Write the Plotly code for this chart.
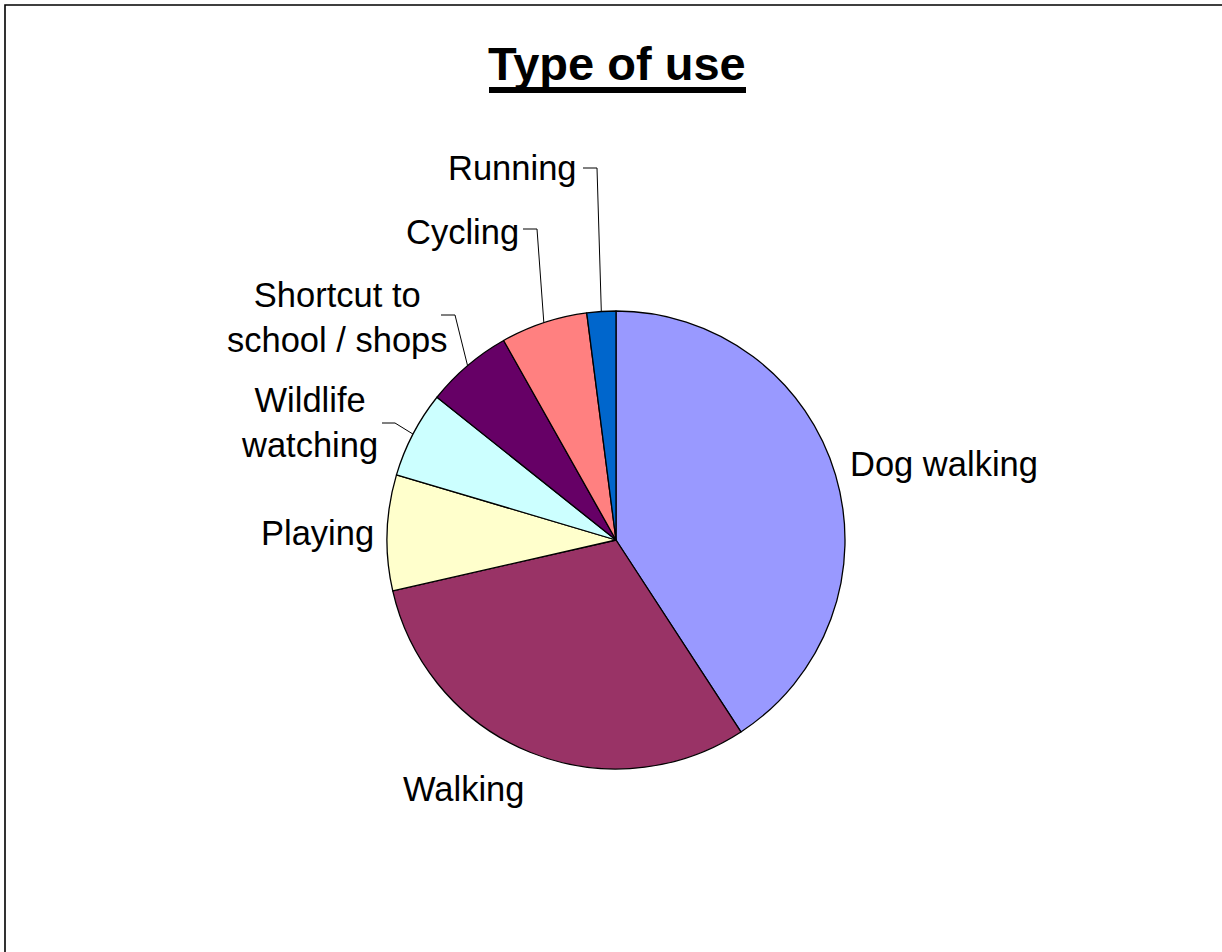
import math
import plotly.graph_objects as go

# ---- data ----
categories = ["Dog walking", "Walking", "Playing", "Wildlife watching",
              "Shortcut to school / shops", "Cycling", "Running"]
values = [20, 15, 4, 3, 3, 3, 1]
label_texts = ["Dog walking", "Walking", "Playing", "Wildlife<br>watching",
               "Shortcut to<br>school / shops", "Cycling", "Running"]
colors = ["#9999FF", "#993366", "#FFFFCC", "#CCFFFF", "#660066", "#FF8080", "#0066CC"]
title_text = "Type of use"

# ---- layout (pixels) ----
W, H = 1222, 952
CX, CY, R = 616, 540, 229
FONT = "Liberation Sans, Arial, sans-serif"

# label placement: (x, y, xanchor) in pixels, and optional leader elbow (x, y, horizontal end x)
label_pos = [
    (848, 464, "left"),
    (401, 789, "left"),
    (376, 533, "right"),
    (309, 422, "center"),
    (337, 318, "center"),
    (521, 232, "right"),
    (579, 168, "right"),
]
leaders = [None, None, None,
           (395, 423, 382),
           (455, 315, 441),
           (537, 229, 523),
           (597, 168, 583)]


def px(x):
    return x / W


def py(y):
    return 1 - y / H


fig = go.Figure(go.Pie(
    labels=categories,
    values=values,
    sort=False,
    direction="clockwise",
    rotation=0,
    marker=dict(colors=colors, line=dict(color="black", width=1.3)),
    textinfo="none",
    hoverinfo="label+value+percent",
    showlegend=False,
    domain=dict(x=[px(CX - R), px(CX + R)], y=[py(CY + R), py(CY - R)]),
))

annotations = []
shapes = []
total = sum(values)
cum = 0
for i, v in enumerate(values):
    mid = (cum + v / 2) / total * 2 * math.pi
    cum += v
    lx, ly, xa = label_pos[i]
    annotations.append(dict(
        x=px(lx), y=py(ly), xref="paper", yref="paper",
        text=label_texts[i], showarrow=False, xanchor=xa, yanchor="middle",
        align="center", font=dict(family=FONT, size=34.5, color="black"),
    ))
    if leaders[i] is not None:
        ex, ey, hx = leaders[i]
        sx = CX + R * math.sin(mid)
        sy = CY - R * math.cos(mid)
        path = f"M {px(sx)},{py(sy)} L {px(ex)},{py(ey)} L {px(hx)},{py(ey)}"
        shapes.append(dict(type="path", xref="paper", yref="paper", path=path,
                           line=dict(color="black", width=1)))

# title (bold) with a heavy underline
annotations.append(dict(
    x=px(617), y=py(64), xref="paper", yref="paper",
    text=f"<b>{title_text}</b>", showarrow=False, xanchor="center", yanchor="middle",
    font=dict(family=FONT, size=47, color="black"),
))
shapes.append(dict(type="line", xref="paper", yref="paper",
                   x0=px(489), x1=px(746), y0=py(90), y1=py(90),
                   line=dict(color="black", width=6)))

# chart frame
shapes.append(dict(type="rect", xref="paper", yref="paper",
                   x0=px(5), y0=py(5), x1=1.05, y1=-0.05,
                   line=dict(color="black", width=1.6), fillcolor="rgba(0,0,0,0)"))

fig.update_layout(
    width=W, height=H,
    margin=dict(l=0, r=0, t=0, b=0),
    paper_bgcolor="white",
    plot_bgcolor="white",
    annotations=annotations,
    shapes=shapes,
)

fig.write_html("out.html",
               config={"displayModeBar": False},
               post_script="document.body.style.margin='0px';document.body.style.overflow='hidden';")
